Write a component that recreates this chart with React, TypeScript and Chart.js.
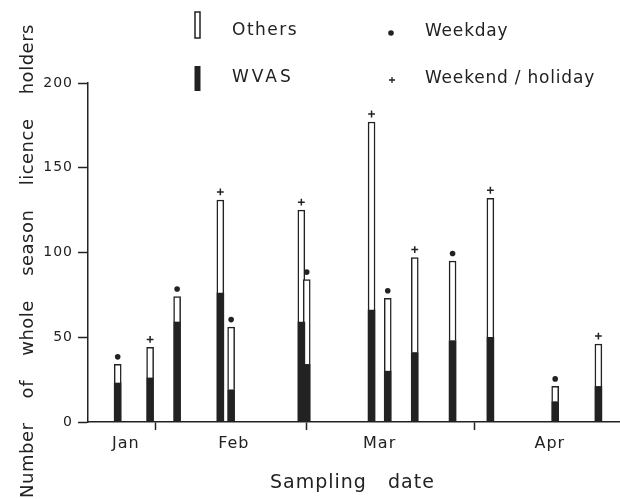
import React, { useEffect, useRef } from 'react';
import { Chart, registerables } from 'chart.js';

Chart.register(...registerables);

// Sampling dates as day of year (1 Jan = day 0)
const samplingDays = [24, 30, 35, 43, 45, 58, 59, 71, 74, 79, 86, 93, 105, 113];
// Number of whole season licence holders
const wvasHolders = [23, 26, 59, 76, 19, 59, 34, 66, 30, 41, 48, 50, 12, 21];
const otherHolders = [11, 18, 15, 55, 37, 66, 50, 111, 43, 56, 47, 82, 9, 25];
const dayTypes = [
  'weekday', 'weekend', 'weekday', 'weekend', 'weekday', 'weekend', 'weekday',
  'weekend', 'weekday', 'weekend', 'weekday', 'weekend', 'weekday', 'weekend',
];
const yTickValues = [0, 50, 100, 150, 200];
const monthNames = ['Jan', 'Feb', 'Mar', 'Apr'];
const monthLabelDays = [25.5, 45.5, 72.5, 104];
const monthStartDays = [31, 59, 90];
const xMinDay = 18.5;
const xMaxDay = 117;

const FONT = '"DejaVu Sans", sans-serif';
const INK = '#222222';

function drawDot(ctx: CanvasRenderingContext2D, x: number, y: number, r: number) {
  ctx.beginPath();
  ctx.arc(x, y, r, 0, Math.PI * 2);
  ctx.fill();
}

function drawPlus(ctx: CanvasRenderingContext2D, x: number, y: number, s: number, w: number) {
  ctx.lineWidth = w;
  ctx.beginPath();
  ctx.moveTo(x - s, y);
  ctx.lineTo(x + s, y);
  ctx.moveTo(x, y - s);
  ctx.lineTo(x, y + s);
  ctx.stroke();
}

const decorPlugin = {
  id: 'decor',
  beforeDraw(chart: any) {
    (chart.ctx as any).letterSpacing = '1px';
  },
  afterDraw(chart: any) {
    const ctx: CanvasRenderingContext2D = chart.ctx;
    ctx.save();
    ctx.fillStyle = INK;
    ctx.strokeStyle = INK;

    // day-type markers above each bar
    const meta = chart.getDatasetMeta(1);
    meta.data.forEach((el: any, i: number) => {
      const p = el.getProps(['x', 'y'], true);
      if (dayTypes[i] === 'weekday') drawDot(ctx, p.x, p.y - 7.5, 2.8);
      else drawPlus(ctx, p.x, p.y - 8, 3.4, 1.5);
    });

    // legend
    ctx.lineWidth = 1.5;
    ctx.fillStyle = '#fff';
    ctx.fillRect(195, 12, 5, 26);
    ctx.strokeRect(195, 12, 5, 26);
    ctx.fillStyle = INK;
    ctx.fillRect(194.5, 66, 6, 25);

    ctx.textBaseline = 'middle';
    ctx.textAlign = 'left';
    ctx.font = `17px ${FONT}`;
    (ctx as any).letterSpacing = '1.5px';
    ctx.fillText('Others', 232, 31);
    (ctx as any).letterSpacing = '3px';
    ctx.fillText('WVAS', 232, 78);
    (ctx as any).letterSpacing = '0.8px';
    ctx.fillText('Weekday', 425, 32);
    ctx.fillText('Weekend / holiday', 425, 79);
    drawDot(ctx, 391, 33, 2.8);
    drawPlus(ctx, 392, 80, 3, 1.3);

    // x title
    ctx.font = `19px ${FONT}`;
    (ctx as any).letterSpacing = '1px';
    (ctx as any).wordSpacing = '14px';
    ctx.textBaseline = 'alphabetic';
    ctx.fillText('Sampling date', 270, 488);

    // y title
    ctx.save();
    ctx.translate(33, 261);
    ctx.rotate(-Math.PI / 2);
    ctx.font = `18px ${FONT}`;
    (ctx as any).letterSpacing = '0.5px';
    (ctx as any).wordSpacing = '18px';
    ctx.textAlign = 'center';
    ctx.fillText('Number of whole season licence holders', 0, 0);
    ctx.restore();

    (ctx as any).wordSpacing = '0px';
    ctx.restore();
    (ctx as any).letterSpacing = '0px';
  },
};

export default function App() {
  const ref = useRef<HTMLCanvasElement | null>(null);

  useEffect(() => {
    if (!ref.current) return;
    const chart = new Chart(ref.current, {
      type: 'bar',
      data: {
        datasets: [
          {
            label: 'WVAS',
            data: samplingDays.map((d, i) => ({ x: d, y: wvasHolders[i] })),
            backgroundColor: INK,
            borderWidth: 0,
            barThickness: 7,
          },
          {
            label: 'Others',
            data: samplingDays.map((d, i) => ({ x: d, y: otherHolders[i] })),
            backgroundColor: '#ffffff',
            borderColor: INK,
            borderWidth: 1.5,
            barThickness: 7,
          },
        ],
      } as any,
      options: {
        animation: false,
        responsive: false,
        events: [],
        layout: { padding: { top: 83, left: 0, right: 0, bottom: 0 } },
        plugins: {
          legend: { display: false },
          tooltip: { enabled: false },
          title: { display: false },
        },
        scales: {
          x: {
            type: 'linear',
            stacked: true,
            offset: false,
            min: xMinDay,
            max: xMaxDay,
            afterBuildTicks: (s: any) => {
              s.ticks = [...monthLabelDays, ...monthStartDays]
                .sort((a, b) => a - b)
                .map((v) => ({ value: v }));
            },
            afterFit: (s: any) => {
              s.height = 77;
            },
            ticks: {
              autoSkip: false,
              maxRotation: 0,
              padding: 4,
              color: INK,
              font: { family: FONT, size: 16 },
              callback: (v: any) => {
                const k = monthLabelDays.indexOf(Number(v));
                return k >= 0 ? monthNames[k] : '';
              },
            },
            grid: {
              offset: false,
              drawOnChartArea: false,
              drawTicks: true,
              tickLength: 8,
              tickWidth: 1.5,
              tickColor: (c: any) =>
                c.tick && monthStartDays.includes(c.tick.value) ? INK : 'rgba(0,0,0,0)',
            },
            border: { color: INK, width: 1.5 },
          },
          y: {
            stacked: true,
            min: 0,
            max: 200,
            afterBuildTicks: (s: any) => {
              s.ticks = yTickValues.map((v) => ({ value: v }));
            },
            afterFit: (s: any) => {
              s.width = 88;
            },
            ticks: {
              padding: 5,
              color: INK,
              font: { family: FONT, size: 14 },
            },
            grid: {
              drawOnChartArea: false,
              tickLength: 10,
              tickWidth: 1.5,
              tickColor: INK,
            },
            border: { color: INK, width: 1.5 },
          },
        },
      } as any,
      plugins: [decorPlugin],
    });
    return () => chart.destroy();
  }, []);

  return (
    <div style={{ position: 'absolute', left: 0, top: 0, width: 620, height: 499, background: '#fff' }}>
      <canvas ref={ref} width={620} height={499} style={{ display: 'block' }} />
    </div>
  );
}
